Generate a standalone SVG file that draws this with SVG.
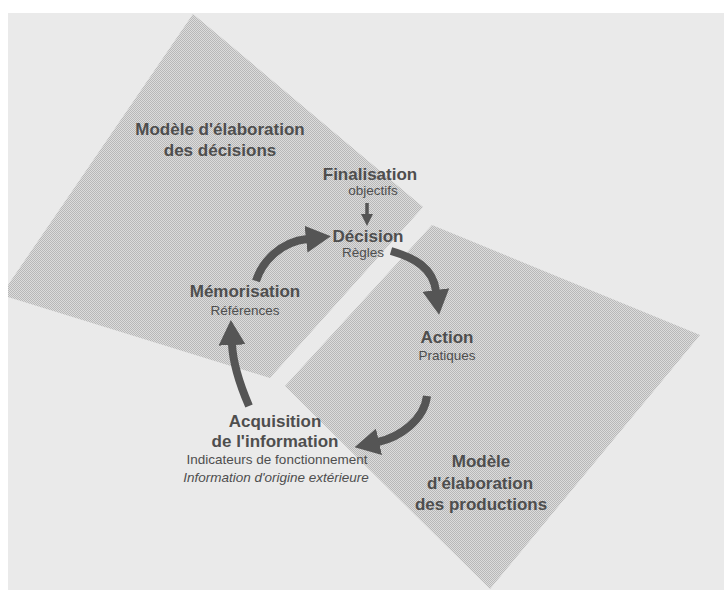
<svg xmlns="http://www.w3.org/2000/svg" width="724" height="590" viewBox="0 0 724 590">
  <defs>
    <style>
      .lbl { font-family: "Liberation Sans", Arial, sans-serif; font-weight: bold; font-size: 17px; fill: #4e4e4e; text-anchor: middle; }
      .sub { font-family: "Liberation Sans", Arial, sans-serif; font-size: 13.5px; fill: #4e4e4e; text-anchor: middle; }
      .ital { font-style: italic; }
      .zone { fill: url(#halftone); }
      .conn { fill: none; stroke: #555555; stroke-width: 8; stroke-linecap: butt; }
      .conn-small { fill: none; stroke: #555555; stroke-width: 3.5; }
    </style>
    <pattern id="halftone" width="2" height="2" patternUnits="userSpaceOnUse">
      <rect width="2" height="2" fill="#dcdcdc"/>
      <rect width="1" height="1" fill="#b8b8b8"/>
      <rect x="1" y="1" width="1" height="1" fill="#b8b8b8"/>
    </pattern>
    <marker id="head" viewBox="0 0 25 27" refX="1" refY="13.5" markerWidth="25" markerHeight="27" markerUnits="userSpaceOnUse" orient="auto">
      <path d="M0,0 L25,13.5 L0,27 Z" fill="#555555"/>
    </marker>
    <marker id="head-small" viewBox="0 0 12 12" refX="1" refY="6" markerWidth="12" markerHeight="12" markerUnits="userSpaceOnUse" orient="auto">
      <path d="M0,0 L12,6 L0,12 Z" fill="#555555"/>
    </marker>
  </defs>

  <rect x="0" y="0" width="724" height="590" fill="#ffffff"/>
  <rect x="8" y="13" width="716" height="577" fill="#eaeaea"/>

  <g id="zone-decisions">
    <polygon class="zone" points="193,14 423,207 270,378 8,297 8,285"/>
    <text class="lbl" x="220" y="135">Modèle d'élaboration</text>
    <text class="lbl" x="220" y="156">des décisions</text>
  </g>

  <g id="zone-productions">
    <polygon class="zone" points="432,225 700,335 490,589 285,386"/>
    <text class="lbl" x="481" y="467">Modèle</text>
    <text class="lbl" x="480" y="489">d'élaboration</text>
    <text class="lbl" x="481" y="510">des productions</text>
  </g>

  <g id="connectors">
    <path class="conn" d="M256,281 C262,262 280,242 307,239" marker-end="url(#head)"/>
    <path class="conn" d="M391,251 C415,258 433,268 436,291" marker-end="url(#head)"/>
    <path class="conn" d="M427,396 C424,420 400,437 378,442" marker-end="url(#head)"/>
    <path class="conn" d="M249,406 C240,385 233,365 232,344" marker-end="url(#head)"/>
    <path class="conn-small" d="M367,203 L367,215" marker-end="url(#head-small)"/>
  </g>

  <g id="node-finalisation">
    <text class="lbl" x="370" y="180">Finalisation</text>
    <text class="sub" x="373" y="195">objectifs</text>
  </g>

  <g id="node-decision">
    <text class="lbl" x="368" y="242">Décision</text>
    <text class="sub" x="363" y="257">Règles</text>
  </g>

  <g id="node-action">
    <text class="lbl" x="447" y="343">Action</text>
    <text class="sub" x="447" y="360">Pratiques</text>
  </g>

  <g id="node-acquisition">
    <text class="lbl" x="275" y="427">Acquisition</text>
    <text class="lbl" x="275" y="447">de l'information</text>
    <text class="sub" x="277" y="464">Indicateurs de fonctionnement</text>
    <text class="sub ital" x="276" y="482">Information d'origine extérieure</text>
  </g>

  <g id="node-memorisation">
    <text class="lbl" x="245" y="297">Mémorisation</text>
    <text class="sub" x="245" y="315">Références</text>
  </g>
</svg>
